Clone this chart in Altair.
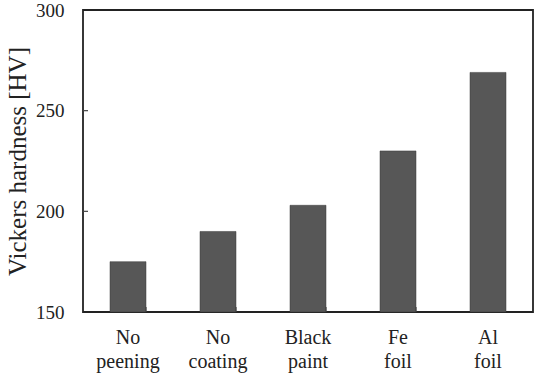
import altair as alt
import pandas as pd

# Vickers hardness for each surface condition
conditions = ["No peening", "No coating", "Black paint", "Fe foil", "Al foil"]
hardness = [175, 190, 203, 230, 269]
y_ticks = [150, 200, 250, 300]
inner_y_ticks = [200, 250]

df = pd.DataFrame({"condition": conditions, "hardness": hardness})
ytick_df = pd.DataFrame({"v": inner_y_ticks})
xtick_df = pd.DataFrame({"condition": conditions[:-1]})

FONT = "Liberation Serif"
TEXT = "#222"

x_enc = alt.X(
    "condition:N",
    sort=conditions,
    title=None,
    scale=alt.Scale(paddingInner=0.6, paddingOuter=0.3),
    axis=alt.Axis(
        labelAngle=0,
        labelExpr="split(datum.label, ' ')",
        labelFont=FONT,
        labelFontSize=20,
        labelColor=TEXT,
        labelLineHeight=24,
        labelPadding=15,
        ticks=False,
        domain=False,
    ),
)

y_scale = alt.Scale(domain=[150, 300], nice=False, zero=False)

bars = alt.Chart(df).mark_bar(color="#575757", stroke="#3a3a3a", strokeWidth=0.5).encode(
    x=x_enc,
    y=alt.Y(
        "hardness:Q",
        scale=y_scale,
        title="Vickers hardness [HV]",
        axis=alt.Axis(
            values=y_ticks,
            labelFont=FONT,
            labelFontSize=19,
            labelColor=TEXT,
            labelPadding=19,
            ticks=False,
            domain=False,
            grid=False,
            titleFont=FONT,
            titleFontSize=25,
            titleFontWeight="normal",
            titleColor=TEXT,
            titlePadding=5,
        ),
    ),
    y2=alt.datum(150),
)

# short inward ticks on the category axis, at band boundaries
xticks = alt.Chart(xtick_df).mark_rule(color="#444", strokeWidth=1.2).encode(
    x=alt.X("condition:N", sort=conditions, bandPosition=1),
    y=alt.datum(150),
    y2=alt.datum(152.5),
)

# short inward ticks on the value axis
yticks = alt.Chart(ytick_df).mark_rule(color="#444", strokeWidth=1.2).encode(
    y=alt.Y("v:Q", scale=y_scale),
    x=alt.value(0),
    x2=alt.value(5),
)

chart = (
    alt.layer(bars, xticks, yticks)
    .properties(
        width=450,
        height=302,
        padding={"left": 83, "top": 10, "right": 6, "bottom": 61},
        autosize=alt.AutoSizeParams(type="none"),
        background="white",
    )
    .configure_view(stroke="#222", strokeWidth=1.8)
)

chart.save("out.html", embed_options={"renderer": "svg", "actions": False})
